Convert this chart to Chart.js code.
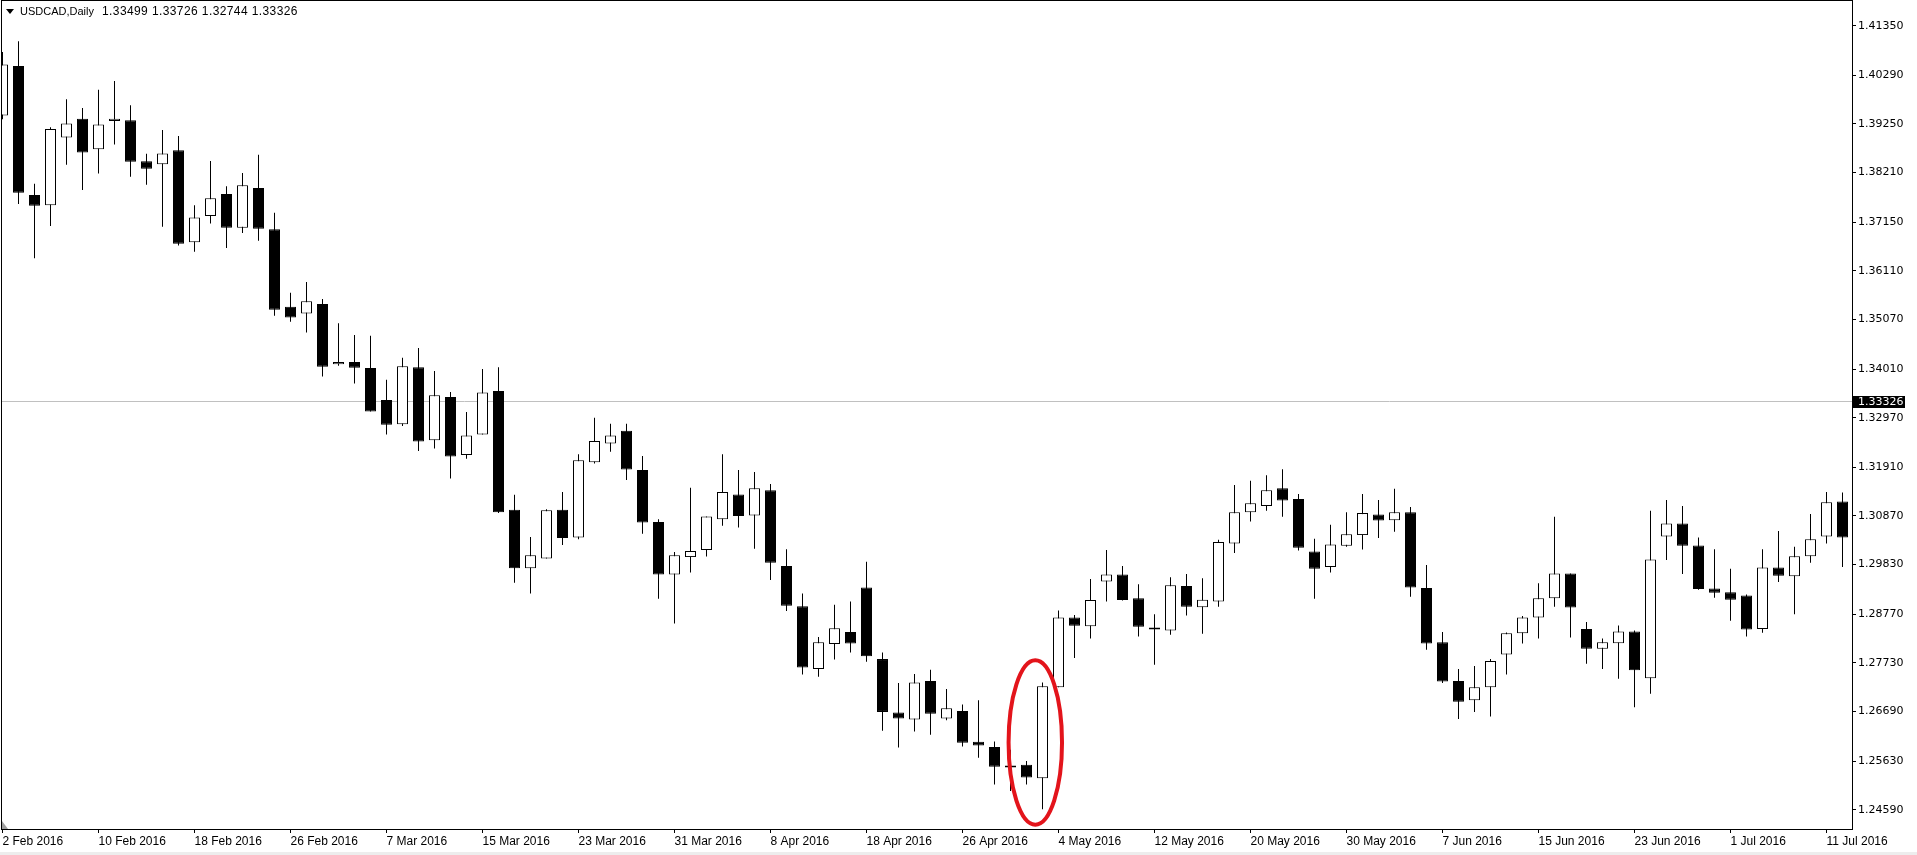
<!DOCTYPE html>
<html>
<head>
<meta charset="utf-8">
<title>USDCAD,Daily</title>
<script src="https://cdn.jsdelivr.net/npm/chart.js@4.4.1/dist/chart.umd.min.js"></script>
<style>
  html, body { margin: 0; padding: 0; background: #fff; overflow: hidden; }
  #chart { display: block; }
</style>
</head>
<body>
<canvas id="chart" width="1917" height="855"></canvas>
<script>
// --- данные ---
const xTickLabels = [
  "2 Feb 2016", "10 Feb 2016", "18 Feb 2016", "26 Feb 2016", "7 Mar 2016",
  "15 Mar 2016", "23 Mar 2016", "31 Mar 2016", "8 Apr 2016", "18 Apr 2016",
  "26 Apr 2016", "4 May 2016", "12 May 2016", "20 May 2016", "30 May 2016",
  "7 Jun 2016", "15 Jun 2016", "23 Jun 2016", "1 Jul 2016", "11 Jul 2016",
];
const barsPerLabel = 6;

const yTickLabels = [
  "1.41350", "1.40290", "1.39250", "1.38210", "1.37150", "1.36110",
  "1.35070", "1.34010", "1.32970", "1.31910", "1.30870", "1.29830",
  "1.28770", "1.27730", "1.26690", "1.25630", "1.24590",
];

const opens = [
  1.3943, 1.4049, 1.3773, 1.3751, 1.3896, 1.3936, 1.3871, 1.3931, 1.3933, 1.3845,
  1.3839, 1.3869, 1.3672, 1.3728, 1.3775, 1.3703, 1.3788, 1.3700, 1.3534, 1.3520,
  1.3540, 1.3411, 1.3416, 1.3403, 1.3335, 1.3283, 1.3405, 1.3249, 1.3341, 1.3217,
  1.3261, 1.3354, 1.3100, 1.2975, 1.2996, 1.3100, 1.3041, 1.3202, 1.3242, 1.3269,
  1.3185, 1.3074, 1.2962, 1.2999, 1.3014, 1.3080, 1.3133, 1.3088, 1.3142, 1.2980,
  1.2894, 1.2760, 1.2813, 1.2839, 1.2934, 1.2781, 1.2667, 1.2652, 1.2734, 1.2654,
  1.2670, 1.2604, 1.2593, 1.2552, 1.2555, 1.2526, 1.2721, 1.2870, 1.2851, 1.2947,
  1.2962, 1.2911, 1.2847, 1.2842, 1.2937, 1.2892, 1.2904, 1.3028, 1.3095, 1.3108,
  1.3146, 1.3123, 1.3011, 1.2978, 1.3023, 1.3046, 1.3090, 1.3078, 1.3095, 1.2933,
  1.2817, 1.2734, 1.2693, 1.2721, 1.2791, 1.2836, 1.2870, 1.2911, 1.2964, 1.2845,
  1.2803, 1.2815, 1.2840, 1.2740, 1.3043, 1.3071, 1.3024, 1.2932, 1.2924, 1.2917,
  1.2845, 1.2977, 1.2958, 1.3001, 1.3043, 1.3118,
];
const highs = [
  1.4079, 1.4102, 1.3797, 1.3918, 1.3978, 1.3959, 1.3998, 1.4017, 1.3965, 1.3861,
  1.3912, 1.3899, 1.3751, 1.3846, 1.3792, 1.3820, 1.3859, 1.3735, 1.3564, 1.3587,
  1.3551, 1.3499, 1.3474, 1.3472, 1.3378, 1.3425, 1.3446, 1.3397, 1.3352, 1.3309,
  1.3401, 1.3405, 1.3132, 1.3042, 1.3101, 1.3138, 1.3219, 1.3297, 1.3284, 1.3284,
  1.3215, 1.3080, 1.3010, 1.3147, 1.3086, 1.3219, 1.3185, 1.3181, 1.3155, 1.3016,
  1.2921, 1.2828, 1.2897, 1.2904, 1.2989, 1.2795, 1.2730, 1.2749, 1.2758, 1.2717,
  1.2684, 1.2693, 1.2605, 1.2587, 1.2563, 1.2731, 1.2885, 1.2875, 1.2952, 1.3014,
  1.2980, 1.2941, 1.2877, 1.2956, 1.2963, 1.2954, 1.3036, 1.3153, 1.3162, 1.3174,
  1.3187, 1.3134, 1.3038, 1.3068, 1.3095, 1.3134, 1.3121, 1.3145, 1.3106, 1.2982,
  1.2839, 1.2760, 1.2766, 1.2781, 1.2838, 1.2873, 1.2943, 1.3085, 1.2964, 1.2860,
  1.2825, 1.2853, 1.2842, 1.3098, 1.3121, 1.3108, 1.3041, 1.3016, 1.2974, 1.2919,
  1.3016, 1.3055, 1.3021, 1.3091, 1.3138, 1.3137,
];
const lows = [
  1.3935, 1.3754, 1.3638, 1.3707, 1.3838, 1.3784, 1.3819, 1.3881, 1.3812, 1.3795,
  1.3705, 1.3665, 1.3652, 1.3712, 1.3660, 1.3692, 1.3675, 1.3515, 1.3502, 1.3479,
  1.3385, 1.3408, 1.3370, 1.3310, 1.3261, 1.3279, 1.3226, 1.3231, 1.3167, 1.3209,
  1.3261, 1.3093, 1.2944, 1.2921, 1.2996, 1.3025, 1.3037, 1.3199, 1.3224, 1.3164,
  1.3049, 1.2910, 1.2857, 1.2966, 1.3000, 1.3066, 1.3062, 1.3017, 1.2950, 1.2884,
  1.2748, 1.2743, 1.2780, 1.2795, 1.2775, 1.2628, 1.2592, 1.2626, 1.2619, 1.2650,
  1.2594, 1.2570, 1.2513, 1.2499, 1.2513, 1.2460, 1.2721, 1.2783, 1.2825, 1.2904,
  1.2906, 1.2829, 1.2769, 1.2833, 1.2874, 1.2835, 1.2893, 1.3008, 1.3075, 1.3098,
  1.3085, 1.3013, 1.2910, 1.2966, 1.3021, 1.3015, 1.3040, 1.3053, 1.2914, 1.2801,
  1.2730, 1.2653, 1.2668, 1.2658, 1.2748, 1.2814, 1.2825, 1.2893, 1.2827, 1.2771,
  1.2760, 1.2739, 1.2678, 1.2707, 1.2993, 1.2963, 1.2929, 1.2912, 1.2863, 1.2829,
  1.2837, 1.2946, 1.2877, 1.2987, 1.3028, 1.2978,
];
const closes = [
  1.4052, 1.3778, 1.3750, 1.3914, 1.3926, 1.3864, 1.3924, 1.3936, 1.3844, 1.3829,
  1.3862, 1.3669, 1.3725, 1.3766, 1.3703, 1.3794, 1.3701, 1.3528, 1.3511, 1.3546,
  1.3406, 1.3416, 1.3404, 1.3310, 1.3282, 1.3407, 1.3246, 1.3345, 1.3214, 1.3259,
  1.3351, 1.3095, 1.2975, 1.3003, 1.3099, 1.3040, 1.3206, 1.3247, 1.3259, 1.3186,
  1.3073, 1.2962, 1.3003, 1.3012, 1.3086, 1.3138, 1.3087, 1.3146, 1.2987, 1.2895,
  1.2763, 1.2817, 1.2847, 1.2814, 1.2787, 1.2668, 1.2654, 1.2731, 1.2664, 1.2676,
  1.2602, 1.2596, 1.2551, 1.2549, 1.2528, 1.2723, 1.2870, 1.2852, 1.2907, 1.2962,
  1.2907, 1.2850, 1.2844, 1.2939, 1.2893, 1.2908, 1.3031, 1.3095, 1.3114, 1.3142,
  1.3120, 1.3019, 1.2974, 1.3026, 1.3048, 1.3093, 1.3077, 1.3095, 1.2934, 1.2814,
  1.2733, 1.2690, 1.2721, 1.2777, 1.2836, 1.2870, 1.2911, 1.2964, 1.2891, 1.2803,
  1.2817, 1.2840, 1.2757, 1.2994, 1.3071, 1.3023, 1.2931, 1.2923, 1.2908, 1.2844,
  1.2977, 1.2959, 1.3001, 1.3037, 1.3116, 1.3041,
];

const symbolText = "USDCAD,Daily";
const quoteText = "1.33499 1.33726 1.32744 1.33326";
const bidPrice = 1.33326;

// --- диапазоны шкал (как в окне MT4) ---
const xMin = -0.03125;
const xMax = 115.59375;
const yMin = 1.24177;
const yMax = 1.41878;

// красный овал вокруг свечи 3 May
const markIndex = 64.55;
const markPrice = 1.26026;
const markHalfBars = 1.67;
const markHalfPrice = 0.01757;

// --- свечи ---
const bodies = opens.map((o, i) => ({ x: i, y: [o, closes[i]] }));
const wicks = opens.map((o, i) => ({ x: i, y: [lows[i], highs[i]] }));
const bodyColors = opens.map((o, i) => (closes[i] >= o ? "#ffffff" : "#000000"));

// --- отрисовка рамки, заголовка, линии Bid и овала ---
const mtPlugin = {
  id: "mt4",
  beforeDraw(chart) {
    const ctx = chart.ctx;
    ctx.save();
    ctx.fillStyle = "#ffffff";
    ctx.fillRect(0, 0, chart.width, chart.height);
    ctx.restore();
  },
  beforeDatasetsDraw(chart) {
    const { ctx, chartArea, scales } = chart;
    const y = Math.round(scales.y.getPixelForValue(bidPrice)) + 0.5;
    ctx.save();
    ctx.strokeStyle = "#c0c0c0";
    ctx.lineWidth = 1;
    ctx.beginPath();
    ctx.moveTo(chartArea.left, y);
    ctx.lineTo(chartArea.right, y);
    ctx.stroke();
    ctx.restore();
  },
  afterDraw(chart) {
    const { ctx, chartArea, scales } = chart;
    ctx.save();

    // рамка
    ctx.strokeStyle = "#000000";
    ctx.lineWidth = 1;
    ctx.strokeRect(chartArea.left - 0.5, chartArea.top - 0.5,
      chartArea.right - chartArea.left + 1, chartArea.bottom - chartArea.top + 1);

    // маркер сдвига в углу
    ctx.fillStyle = "#a0a0a0";
    ctx.beginPath();
    ctx.moveTo(chartArea.left, chartArea.bottom - 8);
    ctx.lineTo(chartArea.left, chartArea.bottom);
    ctx.lineTo(chartArea.left + 6, chartArea.bottom);
    ctx.closePath();
    ctx.fill();

    // заголовок
    ctx.fillStyle = "#000000";
    ctx.beginPath();
    ctx.moveTo(6, 9);
    ctx.lineTo(14, 9);
    ctx.lineTo(10, 14);
    ctx.closePath();
    ctx.fill();
    ctx.textBaseline = "middle";
    ctx.textAlign = "left";
    ctx.font = "11px 'Liberation Sans'";
    ctx.fillText(symbolText, 20, 12);
    ctx.font = "12px 'Liberation Sans'";
    ctx.letterSpacing = "0.4px";
    ctx.fillText(quoteText, 102, 12);
    ctx.letterSpacing = "0px";

    // метка текущей цены
    const by = Math.round(scales.y.getPixelForValue(bidPrice));
    ctx.fillStyle = "#000000";
    ctx.fillRect(chartArea.right + 1, by - 5, 52, 12);
    ctx.fillStyle = "#ffffff";
    ctx.font = "11px 'DejaVu Sans'";
    ctx.fillText(bidPrice.toFixed(5), chartArea.right + 6, by + 1);

    // овал
    const cx = scales.x.getPixelForValue(markIndex);
    const cy = scales.y.getPixelForValue(markPrice);
    const rx = scales.x.getPixelForValue(markIndex + markHalfBars) - cx;
    const ry = cy - scales.y.getPixelForValue(markPrice + markHalfPrice);
    ctx.strokeStyle = "#e3141b";
    ctx.lineWidth = 4;
    ctx.beginPath();
    ctx.ellipse(cx, cy, rx, ry, 0, 0, Math.PI * 2);
    ctx.stroke();

    // полоса снизу
    ctx.fillStyle = "#ededed";
    ctx.fillRect(0, chart.height - 3, chart.width, 3);

    ctx.restore();
  },
};

const ctx = document.getElementById("chart").getContext("2d");
const chart = new Chart(ctx, {
  type: "bar",
  data: {
    datasets: [
      {
        label: "body",
        data: bodies,
        backgroundColor: bodyColors,
        borderColor: "#000000",
        borderWidth: 1,
        borderSkipped: false,
        barThickness: 11,
        minBarLength: 2,
        inflateAmount: 0,
        grouped: false,
        clip: 0,
        order: 0,
      },
      {
        label: "wick",
        data: wicks,
        backgroundColor: "#000000",
        borderWidth: 0,
        borderSkipped: false,
        barThickness: 1,
        inflateAmount: 0,
        grouped: false,
        clip: 0,
        order: 1,
      },
    ],
  },
  options: {
    responsive: false,
    animation: false,
    devicePixelRatio: 1,
    layout: { padding: { left: 2, top: 1, right: 0, bottom: 0 } },
    plugins: { legend: { display: false }, tooltip: { enabled: false } },
    scales: {
      x: {
        type: "linear",
        min: xMin,
        max: xMax,
        offset: false,
        afterBuildTicks: (s) => {
          s.ticks = xTickLabels.map((_, k) => ({ value: k * barsPerLabel }));
        },
        afterFit: (s) => {
          s.height = 26;
          s.paddingLeft = 0;
          s.paddingRight = 0;
        },
        grid: { offset: false, drawOnChartArea: false, drawTicks: true, tickLength: 4, color: "#000000" },
        border: { display: false },
        ticks: {
          align: "start",
          padding: 1,
          maxRotation: 0,
          minRotation: 0,
          autoSkip: false,
          color: "#000000",
          font: { family: "'Liberation Sans'", size: 12 },
          callback: (v, i) => xTickLabels[i],
        },
      },
      y: {
        type: "linear",
        position: "right",
        min: yMin,
        max: yMax,
        beginAtZero: false,
        afterBuildTicks: (s) => {
          s.ticks = yTickLabels.map((t) => ({ value: parseFloat(t) }));
        },
        afterFit: (s) => {
          s.width = 65;
          s.paddingTop = 0;
          s.paddingBottom = 0;
        },
        grid: { drawOnChartArea: false, drawTicks: true, tickLength: 4, color: "#000000" },
        border: { display: false },
        ticks: {
          padding: 2,
          autoSkip: false,
          color: "#000000",
          font: { family: "'DejaVu Sans'", size: 11 },
          callback: (v, i) => yTickLabels[i],
        },
      },
    },
  },
  plugins: [mtPlugin],
});
</script>
</body>
</html>
